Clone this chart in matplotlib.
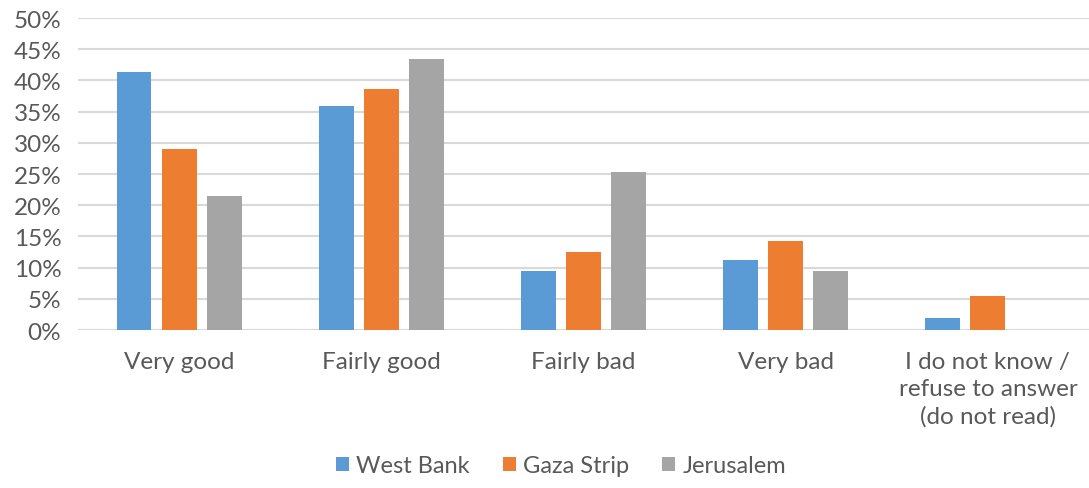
import numpy as np
import matplotlib.pyplot as plt
from matplotlib.ticker import FuncFormatter

categories = ["Very good", "Fairly good", "Fairly bad", "Very bad",
              "I do not know /\nrefuse to answer\n(do not read)"]
west_bank = [41.3, 35.9, 9.5, 11.2, 2.0]
gaza_strip = [29.0, 38.7, 12.5, 14.2, 5.4]
jerusalem = [21.4, 43.5, 25.4, 9.5, 0.0]
series = ["West Bank", "Gaza Strip", "Jerusalem"]
colors = ["#5B9BD5", "#ED7D31", "#A5A5A5"]

plt.rcParams['font.family'] = ['Lato', 'DejaVu Sans']
txt = "#595959"
fs = 17.5

fig = plt.figure(figsize=(10.89, 4.89), dpi=100)
ax = fig.add_axes([78/1089, 158/489, 1011/1089, 312/489])

x = np.arange(len(categories))
w = 0.173
pitch = 0.223
for i, (vals, name, c) in enumerate(zip([west_bank, gaza_strip, jerusalem], series, colors)):
    ax.bar(x + (i - 1) * pitch, vals, width=w, color=c, label=name, zorder=3)

ax.set_xlim(-0.5, len(categories) - 0.5)
ax.set_ylim(0, 50)
ax.set_yticks(np.arange(0, 51, 5))
ax.yaxis.set_major_formatter(FuncFormatter(lambda v, p: f"{int(v)}%"))
ax.grid(axis="y", color="#d9d9d9", lw=1.5, zorder=0)
for s in ax.spines.values():
    s.set_visible(False)
ax.tick_params(axis="both", length=0, labelsize=fs, labelcolor=txt)
ax.tick_params(axis="y", pad=12)
ax.tick_params(axis="x", pad=15)
ax.set_xticks(x)
ax.set_xticklabels(categories, linespacing=1.36)

fig.legend(loc="center", bbox_to_anchor=(561/1089, 22/489), ncol=3, frameon=False,
           fontsize=17, labelcolor=txt, handlelength=0.55, handleheight=0.55,
           handletextpad=0.3, columnspacing=1.4)

fig.savefig("out.png", dpi=100)
